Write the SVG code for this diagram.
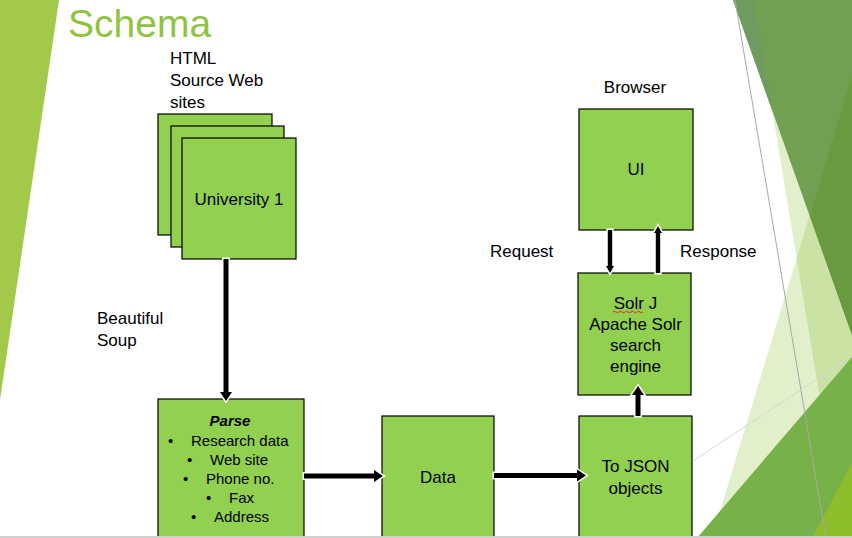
<svg xmlns="http://www.w3.org/2000/svg" width="852" height="538" viewBox="0 0 852 538">
<style>
.box{fill:#92d050;stroke:#000;stroke-width:1.2}
.t{font-family:"Liberation Sans",Arial,sans-serif;font-size:17px;fill:#000}
.c{text-anchor:middle}
.p{font-family:"Liberation Sans",Arial,sans-serif;font-size:15px;fill:#000}
.arr{fill:#000;stroke:#fff;stroke-width:3;paint-order:stroke;stroke-linejoin:miter}
</style>
<rect width="852" height="538" fill="#fff"/>
<g id="decor">
<polygon points="0,0 59,0 0,400" fill="#a2c94a"/>
<polygon points="852,75 712,538 852,538" fill="#88c030" fill-opacity="0.25"/>
<polygon points="754,0 852,0 852,538 843,538" fill="#88c030" fill-opacity="0.25"/>
<polygon points="733,0 852,0 852,335" fill="#71a052"/>
<polygon points="733,0 754,0 772,110" fill="#6e9c5f"/>
<polygon points="852,75 810,216 852,335" fill="#6a9a40"/>
<polygon points="697,538 852,357 852,538" fill="#77b14a"/>
<polygon points="812,538 852,463 852,538" fill="#8dbd2b"/>
<line x1="735" y1="0" x2="826" y2="538" stroke="#a8a8a8" stroke-width="1"/>
<line x1="852" y1="356" x2="693" y2="461" stroke="#d6d6d6" stroke-width="1"/>
</g>
<text x="68" y="37" font-family="'Liberation Sans',Arial,sans-serif" font-size="39" fill="#8fc43f">Schema</text>
<g id="label-html">
<text class="t" x="170" y="64">HTML</text>
<text class="t" x="170" y="86">Source Web</text>
<text class="t" x="170" y="108">sites</text>
</g>
<g id="sources">
<rect class="box" x="158" y="114" width="114" height="121"/>
<rect class="box" x="171" y="126" width="113" height="121"/>
<rect class="box" x="182" y="138" width="114" height="121"/>
<text class="t c" x="239" y="205">University 1</text>
</g>
<g id="label-soup">
<text class="t" x="97" y="324">Beautiful</text>
<text class="t" x="97" y="346">Soup</text>
</g>
<g id="parse">
<rect class="box" x="158" y="399" width="146" height="145"/>
<text class="p c" x="230" y="426" font-weight="bold" font-style="italic">Parse</text>
<text class="p" x="168" y="446">•</text><text class="p" x="191" y="446">Research data</text>
<text class="p" x="187" y="465">•</text><text class="p" x="210" y="465">Web site</text>
<text class="p" x="183" y="484">•</text><text class="p" x="206" y="484">Phone no.</text>
<text class="p" x="206" y="503">•</text><text class="p" x="229" y="503">Fax</text>
<text class="p" x="191" y="522">•</text><text class="p" x="214" y="522">Address</text>
</g>
<g id="data">
<rect class="box" x="382" y="416" width="112" height="128"/>
<text class="t c" x="438" y="483">Data</text>
</g>
<g id="json">
<rect class="box" x="579" y="416" width="113" height="128"/>
<text class="t c" x="635.5" y="472">To JSON</text>
<text class="t c" x="635.5" y="494">objects</text>
</g>
<g id="solr">
<rect class="box" x="578" y="273" width="113" height="122"/>
<text class="t c" x="635.5" y="309">Solr J</text>
<path d="M613,312 q1.5,-1.5 3,0 t3,0 t3,0 t3,0 t3,0 t3,0 t3,0 t3,0 t3,0 t3,0" fill="none" stroke="#e02020" stroke-width="0.9"/>
<text class="t c" x="635.5" y="330">Apache Solr</text>
<text class="t c" x="635.5" y="351">search</text>
<text class="t c" x="635.5" y="372">engine</text>
</g>
<g id="ui">
<rect class="box" x="579" y="109" width="114" height="121"/>
<text class="t c" x="636" y="175">UI</text>
<text class="t c" x="635" y="93">Browser</text>
</g>
<g id="labels-rr">
<text class="t" x="490" y="257">Request</text>
<text class="t" x="680" y="257">Response</text>
</g>
<g id="connectors">
<polygon class="arr" points="223.5,259 228.5,259 228.5,392 232,392 226,401 220,392 223.5,392"/>
<polygon class="arr" points="304,473.5 374,473.5 374,470 383,476 374,482 374,478.5 304,478.5"/>
<polygon class="arr" points="494,473 577,473 577,469.5 586,475.5 577,481.5 577,478 494,478"/>
<polygon class="arr" points="635.5,416 635.5,395 632,395 638,386 644,395 640.5,395 640.5,416"/>
<polygon class="arr" points="607.8,230 612.2,230 612.2,266 614,266 610,273 606,266 607.8,266"/>
<polygon class="arr" points="655.8,273 655.8,233 654,233 658,226 662,233 660.2,233 660.2,273"/>
</g>
<rect x="0" y="536" width="852" height="2" fill="#d0d0d0"/>
</svg>
